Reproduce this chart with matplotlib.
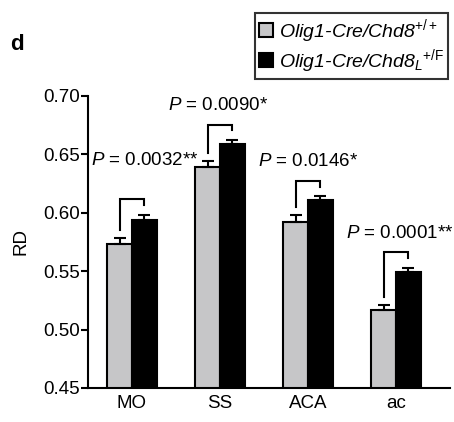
import numpy as np
import matplotlib.pyplot as plt
from matplotlib.patches import Patch

plt.rcParams['font.family'] = ['Liberation Sans', 'DejaVu Sans']
plt.rcParams['mathtext.fontset'] = 'custom'
plt.rcParams['mathtext.rm'] = 'Liberation Sans'
plt.rcParams['mathtext.it'] = 'Liberation Sans:italic'

# data
regions = ['MO', 'SS', 'ACA', 'ac']
ctrl = [0.573, 0.639, 0.592, 0.517]
ctrl_err = [0.005, 0.005, 0.006, 0.004]
het = [0.594, 0.659, 0.611, 0.549]
het_err = [0.004, 0.003, 0.003, 0.004]
pvals = ['0.0032**', '0.0090*', '0.0146*', '0.0001**']
# where each P label sits (x, y in data units)
p_pos = [(-0.466, 0.645), (0.41, 0.692), (1.43, 0.6435), (2.43, 0.5827)]

gray = '#c6c6c8'
w = 0.28
x = np.arange(len(regions))

fig = plt.figure(figsize=(4.54, 4.22), dpi=100)
ax = fig.add_axes([88 / 454, 1 - 388 / 422, (450 - 88) / 454, (388 - 96) / 422])

ekw = dict(ecolor='black', elinewidth=1.5, capsize=4, capthick=1.5)
ax.bar(x - w / 2, ctrl, w, color=gray, edgecolor='black', linewidth=1.5,
       yerr=[np.zeros(4), ctrl_err], error_kw=ekw, zorder=2)
ax.bar(x + w / 2, het, w, color='black', edgecolor='black', linewidth=1.5,
       yerr=[np.zeros(4), het_err], error_kw=ekw, zorder=2)

# significance brackets
for i in range(len(regions)):
    lb = ctrl[i] + ctrl_err[i] + 0.007
    rb = het[i] + het_err[i] + 0.0085
    top = rb + 0.005
    ax.plot([i - w / 2, i - w / 2, i + w / 2, i + w / 2], [lb, top, top, rb],
            color='black', lw=1.5, solid_joinstyle='miter', clip_on=False)
    px, py = p_pos[i]
    ax.text(px, py, r'$\mathit{P}$ = ' + pvals[i], fontsize=13.5,
            ha='left', va='center', clip_on=False)

ax.set_xlim(-0.5, 3.614)
ax.set_ylim(0.45, 0.70)
ax.set_yticks([0.45, 0.50, 0.55, 0.60, 0.65, 0.70])
ax.set_yticklabels(['%.2f' % t for t in ax.get_yticks()], fontsize=13.5)
ax.set_xticks(x)
ax.set_xticklabels(regions, fontsize=13.5)
ax.tick_params(axis='x', length=0, pad=5)
ax.tick_params(axis='y', length=5, width=1.5, pad=1)
ax.spines['top'].set_visible(False)
ax.spines['right'].set_visible(False)
ax.spines['left'].set_linewidth(1.5)
ax.spines['bottom'].set_linewidth(1.5)
ax.set_ylabel('RD', fontsize=13.5, labelpad=10)

handles = [Patch(facecolor=gray, edgecolor='black', linewidth=1.5),
           Patch(facecolor='black', edgecolor='black', linewidth=1.5)]
labels = [r'Olig1-Cre/Chd8$^{+/+}$',
          r'Olig1-Cre/Chd8$_{\mathit{L}}{}^{+/\mathrm{F}}$']
leg = fig.legend(handles, labels, loc='upper right',
                 bbox_to_anchor=(448 / 454, 1 - 13 / 422), fontsize=14,
                 frameon=True, fancybox=False, handlelength=0.7,
                 handleheight=0.7, handletextpad=0.3, borderpad=0.2,
                 labelspacing=0.1, borderaxespad=0)
leg.get_frame().set_edgecolor('black')
leg.get_frame().set_linewidth(1.5)
for t in leg.get_texts():
    t.set_fontstyle('italic')

fig.text(10 / 454, 1 - 45 / 422, 'd', fontsize=16, fontweight='bold',
         ha='left', va='center')

fig.savefig('out.png', dpi=100)
